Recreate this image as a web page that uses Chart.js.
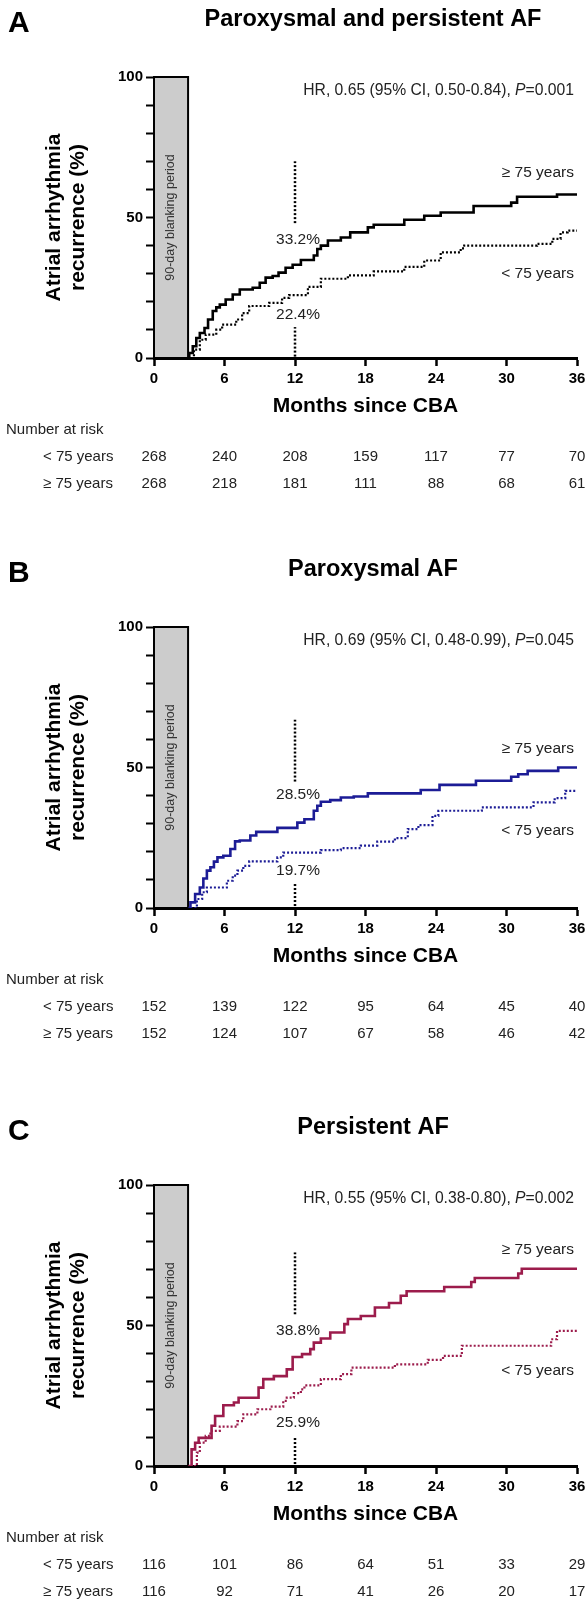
<!DOCTYPE html>
<html>
<head>
<meta charset="utf-8">
<script src="https://cdn.jsdelivr.net/npm/chart.js@4.4.0/dist/chart.umd.min.js"></script>
<style>
  html, body { margin: 0; padding: 0; background: #fff; }
  #wrap { position: relative; width: 587px; height: 1606px; overflow: hidden; }
  canvas { position: absolute; left: 0; }
</style>
</head>
<body>
<div id="wrap">
  <canvas id="cA" width="587" height="550" style="top:0px"></canvas>
  <canvas id="cB" width="587" height="558" style="top:550px"></canvas>
  <canvas id="cC" width="587" height="498" style="top:1108px"></canvas>
</div>
<script>
// ------------------------
// Data
// ------------------------
const xTicks = [0, 6, 12, 18, 24, 30, 36];
const yTicks = [0, 10, 20, 30, 40, 50, 60, 70, 80, 90, 100];
const yLabels = [0, 50, 100];
const groupNames = ["< 75 years", "\u2265 75 years"];

// panel A: paroxysmal and persistent AF  [month, %]
const overA = [[2.9,0],[3.0,1.8],[3.3,4.2],[3.6,7.1],[3.9,8.9],[4.3,10.7],[4.6,13.7],[5.0,16.7],[5.3,18.0],[5.6,19.0],[6.1,20.8],[6.7,22.6],[7.3,24.4],[8.4,25.0],[9.0,26.8],[9.5,28.6],[10.1,29.2],[10.6,30.4],[11.2,32.1],[11.8,33.2],[12.5,34.9],[13.6,36.5],[13.9,38.8],[14.2,40.0],[14.8,41.8],[15.9,42.9],[16.7,44.7],[18.2,46.5],[18.7,47.4],[21.3,49.2],[23.0,50.6],[24.4,51.8],[27.2,54.1],[30.4,55.3],[30.9,57.4],[34.3,58.2],[36,58.2]];
const underA = [[3.2,0],[3.4,3.0],[3.9,6.5],[4.4,8.3],[5.3,10.1],[5.8,11.9],[7.0,13.7],[7.5,16.0],[8.1,18.5],[9.8,19.6],[10.9,21.4],[11.5,22.4],[13.1,25.3],[14.2,28.2],[16.5,29.4],[18.7,30.8],[21.3,32.4],[23.0,34.7],[24.4,37.6],[26.1,39.0],[26.4,40.0],[32.6,40.6],[33.9,42.4],[34.6,44.7],[35.2,45.3],[36,45.3]];
const riskA_under = [268, 240, 208, 159, 117, 77, 70];
const riskA_over = [268, 218, 181, 111, 88, 68, 61];
const hrA = ["0.65", "0.50-0.84", "0.001"];
const pctA = ["33.2%", "22.4%"];

// panel B: paroxysmal AF
const overB = [[2.93,0],[3.1,2],[3.5,5],[3.9,7.3],[4.2,10.5],[4.5,13.3],[4.8,14.5],[5.1,16.5],[5.4,18],[5.9,18.6],[6.5,21],[6.9,23.7],[7.3,24],[8.2,25.8],[8.7,27.1],[10.5,28.5],[12.2,30.4],[12.8,31.6],[13.6,34.6],[13.9,36.4],[14.2,37.8],[15,38.4],[15.9,39.3],[17,39.7],[18.2,40.8],[22.7,42],[24.3,43.8],[27.4,45.3],[30.4,46.7],[31,47.6],[31.8,48.8],[34.4,50],[36,50]];
const underB = [[3.1,0],[3.65,3.2],[4.1,5.6],[4.5,7.3],[6.2,9.7],[6.7,11.5],[7.1,13.3],[7.6,15],[8.1,16.6],[10.5,18],[11,19.7],[14.2,20.6],[15.9,21.3],[17.6,22.2],[19,23.6],[20.5,24.9],[21.6,28.1],[22.5,29.5],[23.7,32.8],[24.2,34.6],[27.9,35.8],[32.3,37.6],[34.1,39.1],[35,41.7],[36,41.7]];
const riskB_under = [152, 139, 122, 95, 64, 45, 40];
const riskB_over = [152, 124, 107, 67, 58, 46, 42];
const hrB = ["0.69", "0.48-0.99", "0.045"];
const pctB = ["28.5%", "19.7%"];

// panel C: persistent AF
const overC = [[2.93,0],[3.2,5.9],[3.5,8.3],[3.8,10],[4.9,14.3],[5.2,17.8],[5.9,21.6],[6.8,22.6],[7.2,24.3],[8.9,27.9],[9.3,30.9],[10.2,32],[11.3,34.4],[11.8,38.8],[12.6,39.8],[13.3,41.6],[13.6,43.9],[14.2,45.4],[15,47.5],[16.2,50.5],[16.5,52.3],[17.6,53.4],[18.8,56.4],[20,58],[21,60.6],[21.5,62.2],[24.7,63.7],[27,65.5],[27.3,66.9],[31,68.5],[31.3,70.2],[36,70.2]];
const underC = [[3.4,0],[3.65,4.75],[3.9,8.3],[4.4,10.7],[4.8,12.5],[5.6,14],[7.1,16],[7.6,18.4],[8.8,20.2],[9.9,21.1],[11,23.2],[11.3,24.3],[11.9,25.9],[12.5,27.3],[12.8,28.7],[14.2,30.9],[15.9,32.7],[16.8,35],[20.5,36.2],[23.3,37.8],[24.6,39.2],[26.2,42.8],[33.8,45.1],[34.3,48.1],[36,48.1]];
const riskC_under = [116, 101, 86, 64, 51, 33, 29];
const riskC_over = [116, 92, 71, 41, 26, 20, 17];
const hrC = ["0.55", "0.38-0.80", "0.002"];
const pctC = ["38.8%", "25.9%"];

// ------------------------
// Layout / style
// ------------------------
const FONT = '"Liberation Sans", Arial, Helvetica, sans-serif';
const plotTop = 77;
const plotH = 281;
const blankEnd = 2.9;

const panels = [
    { id: "cA", letter: "A", title: "Paroxysmal and persistent AF", color: "#000000",
      over: overA, under: underA, risk: [riskA_under, riskA_over], hr: hrA, pct: pctA,
      mark: { upHi: 70, upLo: 48, upLab: 42, lowLab: 15.5, lowHi: 11, lowLo: 0.5 }, groupY: [30, 66] },
    { id: "cB", letter: "B", title: "Paroxysmal AF", color: "#1c1c96",
      over: overB, under: underB, risk: [riskB_under, riskB_over], hr: hrB, pct: pctB,
      mark: { upHi: 67, upLo: 45, upLab: 40.4, lowLab: 13.2, lowHi: 8.6, lowLo: 0.7 }, groupY: [27.5, 56.8] },
    { id: "cC", letter: "C", title: "Persistent AF", color: "#9c1c4c",
      over: overC, under: underC, risk: [riskC_under, riskC_over], hr: hrC, pct: pctC,
      mark: { upHi: 76, upLo: 54, upLab: 48, lowLab: 15.4, lowHi: 10, lowLo: 0.7 }, groupY: [34, 76.8] },
];

const toXY = arr => arr.map(p => ({ x: p[0], y: p[1] }));

// ------------------------
// Text overlay plugin
// ------------------------
const kmPlugin = {
    id: "kmOverlay",
    beforeDatasetsDraw(chart) {
        const { ctx, scales: { x, y } } = chart;
        const x0 = x.getPixelForValue(0), x1 = x.getPixelForValue(blankEnd);
        const yT = y.getPixelForValue(100), yB = y.getPixelForValue(0);
        ctx.save();
        ctx.fillStyle = "#cccccc";
        ctx.fillRect(x0, yT, x1 - x0, yB - yT);
        ctx.strokeStyle = "#000";
        ctx.lineWidth = 2;
        ctx.strokeRect(x0, yT, x1 - x0, yB - yT);
        ctx.translate((x0 + x1) / 2, (yT + yB) / 2);
        ctx.rotate(-Math.PI / 2);
        ctx.fillStyle = "#333";
        ctx.font = "12.5px " + FONT;
        ctx.textAlign = "center";
        ctx.textBaseline = "middle";
        ctx.fillText("90-day blanking period", 0, 0);
        ctx.restore();
    },
    afterDraw(chart) {
        const p = chart.options.plugins.kmOverlay.panel;
        const { ctx, scales: { x, y }, chartArea } = chart;
        const bottom = chartArea.bottom;
        const midY = (chartArea.top + chartArea.bottom) / 2;
        ctx.save();
        ctx.textBaseline = "middle";

        // panel letter and title
        ctx.fillStyle = "#000";
        ctx.font = "bold 30px " + FONT;
        ctx.textAlign = "left";
        ctx.fillText(p.letter, 8, plotTop - 53);
        ctx.font = "bold 23.5px " + FONT;
        ctx.textAlign = "center";
        ctx.fillText(p.title, 373, plotTop - 57);

        // y axis title
        ctx.save();
        ctx.font = "bold 21px " + FONT;
        ctx.translate(54, midY);
        ctx.rotate(-Math.PI / 2);
        ctx.fillText("Atrial arrhythmia", 0, 0);
        ctx.fillText("recurrence (%)", 0, 24);
        ctx.restore();

        // x axis title
        ctx.font = "bold 21px " + FONT;
        ctx.fillText("Months since CBA", (chartArea.left + chartArea.right) / 2, bottom + 48);

        // HR text, right aligned, italic P
        ctx.fillStyle = "#222";
        const parts = [
            { t: "HR, " + p.hr[0] + " (95% CI, " + p.hr[1] + "), ", f: "15.7px " + FONT },
            { t: "P", f: "italic 15.7px " + FONT },
            { t: "=" + p.hr[2], f: "15.7px " + FONT },
        ];
        let total = 0;
        parts.forEach(s => { ctx.font = s.f; s.w = ctx.measureText(s.t).width; total += s.w; });
        let cx = 574 - total;
        ctx.textAlign = "left";
        const hrY = chartArea.top + 14;
        parts.forEach(s => { ctx.font = s.f; ctx.fillText(s.t, cx, hrY); cx += s.w; });

        // group labels
        ctx.font = "15.5px " + FONT;
        ctx.textAlign = "right";
        ctx.fillText(groupNames[0], 574, y.getPixelForValue(p.groupY[0]));
        ctx.fillText(groupNames[1], 574, y.getPixelForValue(p.groupY[1]));

        // 12-month percentages
        ctx.textAlign = "center";
        const x12 = x.getPixelForValue(12) + 3;
        ctx.fillText(p.pct[0], x12, y.getPixelForValue(p.mark.upLab));
        ctx.fillText(p.pct[1], x12, y.getPixelForValue(p.mark.lowLab));

        // number at risk table
        ctx.font = "15px " + FONT;
        ctx.textAlign = "left";
        ctx.fillText("Number at risk", 6, bottom + 72);
        ctx.fillText(groupNames[0], 43, bottom + 99);
        ctx.fillText(groupNames[1], 43, bottom + 126);
        ctx.textAlign = "center";
        xTicks.forEach((m, i) => {
            const px = x.getPixelForValue(m);
            ctx.fillText(String(p.risk[0][i]), px, bottom + 99);
            ctx.fillText(String(p.risk[1][i]), px, bottom + 126);
        });
        ctx.restore();
    }
};

// ------------------------
// Charts
// ------------------------
panels.forEach(p => {
    const canvas = document.getElementById(p.id);
    const H = canvas.height;
    new Chart(canvas.getContext("2d"), {
        type: "line",
        data: {
            datasets: [
                { data: toXY(p.over), borderColor: p.color, borderWidth: 2.6, stepped: "before", pointRadius: 0, fill: false },
                { data: toXY(p.under), borderColor: p.color, borderWidth: 2.2, borderDash: [2, 2], stepped: "before", pointRadius: 0, fill: false },
                { data: [{ x: 12, y: p.mark.upLo }, { x: 12, y: p.mark.upHi }], borderColor: "#000", borderWidth: 2.5, borderDash: [2, 2], pointRadius: 0 },
                { data: [{ x: 12, y: p.mark.lowLo }, { x: 12, y: p.mark.lowHi }], borderColor: "#000", borderWidth: 2.5, borderDash: [2, 2], pointRadius: 0 },
            ]
        },
        options: {
            responsive: false,
            animation: false,
            layout: { padding: { top: plotTop, right: 10, left: 0, bottom: 0 } },
            plugins: { legend: { display: false }, tooltip: { enabled: false }, kmOverlay: { panel: p } },
            scales: {
                x: {
                    type: "linear", min: 0, max: 36,
                    afterBuildTicks: s => { s.ticks = xTicks.map(v => ({ value: v })); },
                    afterFit: s => { s.height = H - plotTop - plotH; s.paddingLeft = 0; s.paddingRight = 0; },
                    grid: { drawOnChartArea: false, drawTicks: true, tickLength: 8, tickWidth: 2.5, tickColor: "#000" },
                    border: { display: true, color: "#000", width: 3 },
                    ticks: { color: "#000", font: { family: FONT, weight: "bold", size: 15 }, padding: 4, maxRotation: 0, autoSkip: false }
                },
                y: {
                    type: "linear", min: 0, max: 100,
                    afterBuildTicks: s => { s.ticks = yTicks.map(v => ({ value: v })); },
                    afterFit: s => { s.width = 154; s.paddingTop = 0; s.paddingBottom = 0; },
                    grid: { drawOnChartArea: false, drawTicks: true, tickLength: 8, tickWidth: 2, tickColor: "#000" },
                    border: { display: true, color: "#000", width: 3 },
                    ticks: {
                        color: "#000", font: { family: FONT, weight: "bold", size: 15 }, padding: 3, autoSkip: false,
                        callback: v => yLabels.includes(v) ? String(v) : ""
                    }
                }
            }
        },
        plugins: [kmPlugin]
    });
});
</script>
</body>
</html>
